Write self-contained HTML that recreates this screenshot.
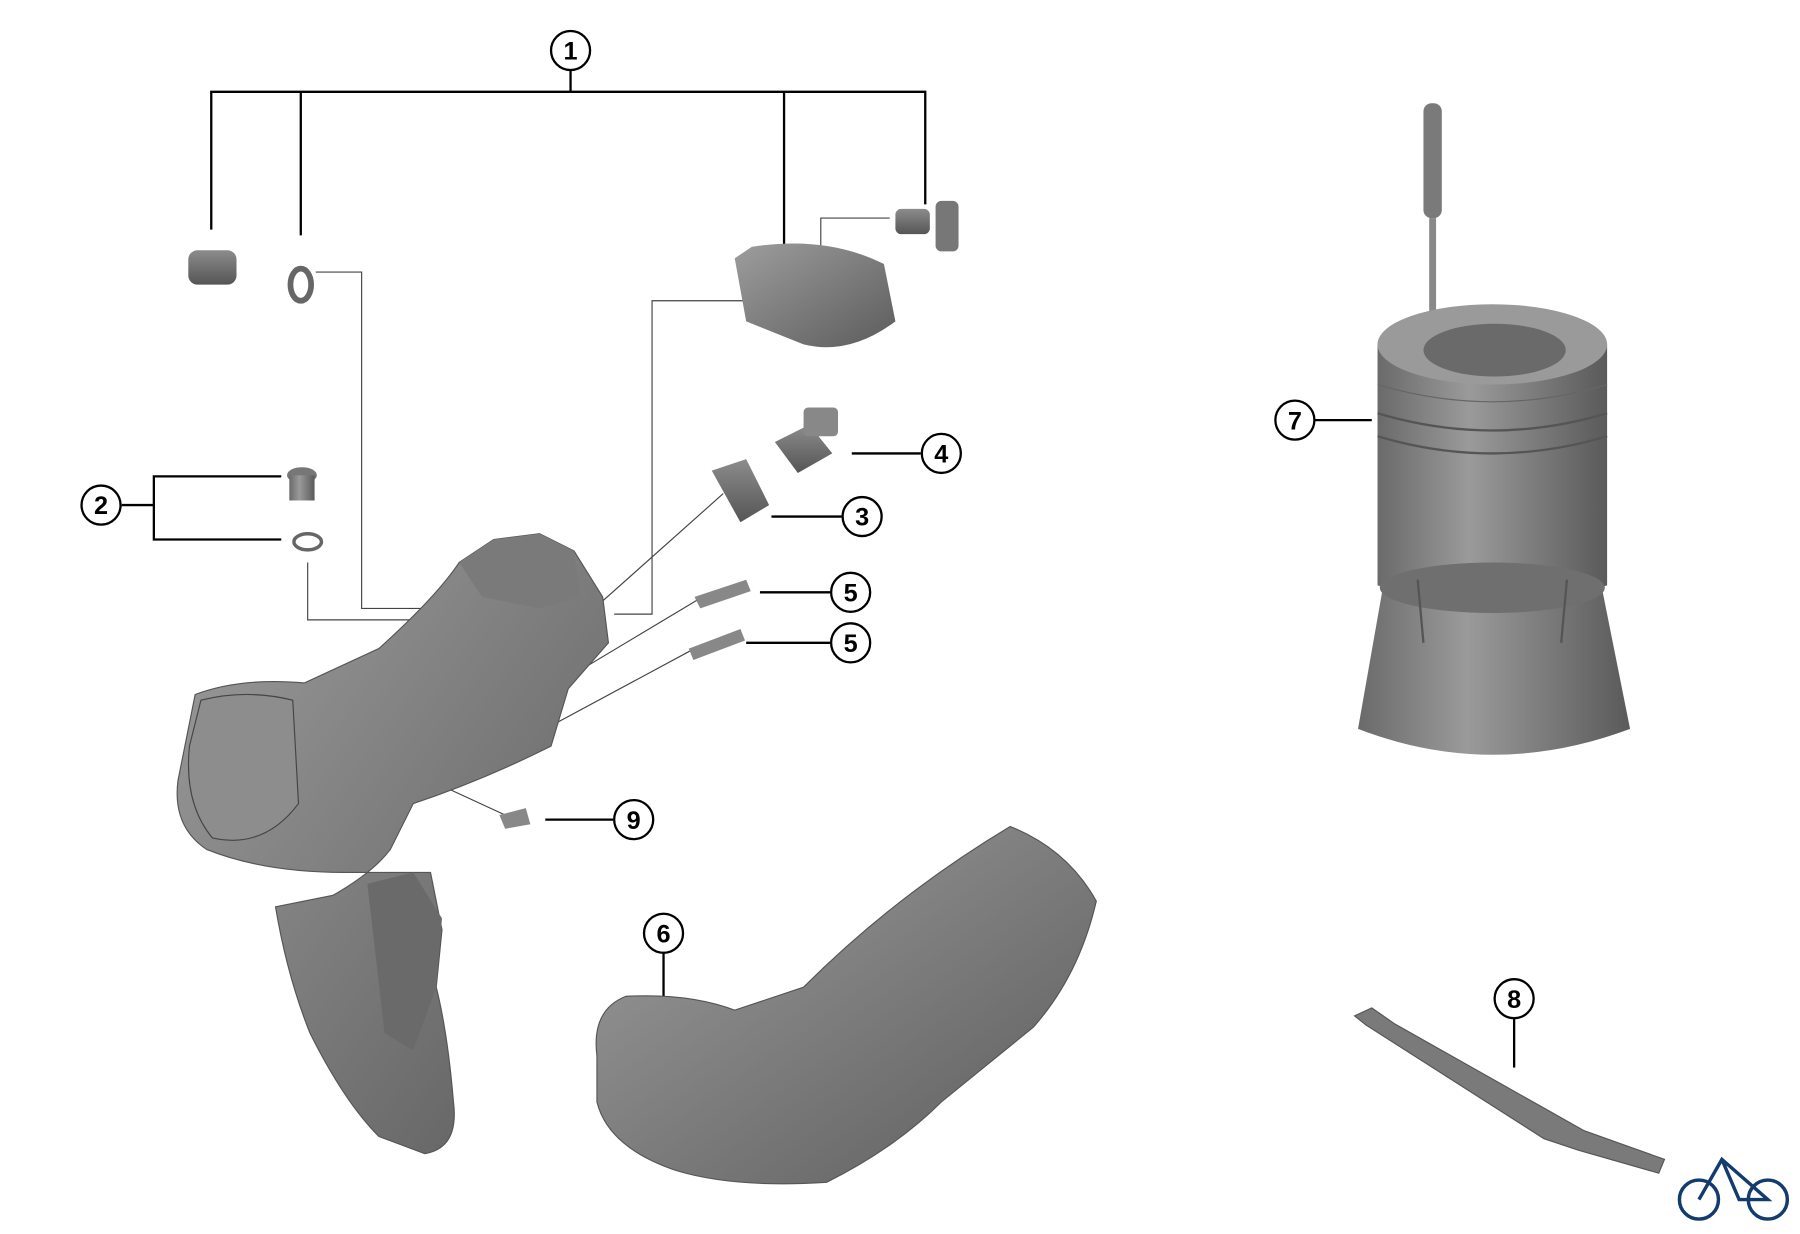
<!DOCTYPE html>
<html><head><meta charset="utf-8"><style>
html,body{margin:0;padding:0;background:#fff;}
svg{display:block;}
text{font-family:"Liberation Sans",sans-serif;font-size:22px;font-weight:bold;text-anchor:middle;dominant-baseline:central;fill:#000;}
</style></head><body>
<svg width="1800" height="1234" viewBox="0 0 1568 1075" xmlns="http://www.w3.org/2000/svg">
<defs>
<linearGradient id="g1" x1="0" y1="0" x2="1" y2="0"><stop offset="0" stop-color="#6a6a6a"/><stop offset="0.4" stop-color="#9a9a9a"/><stop offset="1" stop-color="#5a5a5a"/></linearGradient>
<linearGradient id="g2" x1="0" y1="0" x2="0" y2="1"><stop offset="0" stop-color="#8c8c8c"/><stop offset="1" stop-color="#555"/></linearGradient>
<linearGradient id="g3" x1="0" y1="0" x2="1" y2="1"><stop offset="0" stop-color="#9d9d9d"/><stop offset="1" stop-color="#5c5c5c"/></linearGradient>
</defs>
<g fill="none" stroke="#000" stroke-width="2">
<line x1="497" y1="61" x2="497" y2="80"/>
<polyline points="184,200 184,80 806,80 806,178"/>
<line x1="262" y1="80" x2="262" y2="205"/>
<line x1="683" y1="80" x2="683" y2="215"/>
<polyline points="106,440 134,440"/>
<polyline points="245,415 134,415 134,470 245,470"/>
<line x1="672" y1="450" x2="733" y2="450"/>
<line x1="742" y1="395" x2="802" y2="395"/>
<line x1="662" y1="516" x2="723" y2="516"/>
<line x1="650" y1="560" x2="723" y2="560"/>
<line x1="475" y1="714" x2="534" y2="714"/>
<line x1="578" y1="830" x2="578" y2="878"/>
<line x1="1145" y1="366" x2="1195" y2="366"/>
<line x1="1319" y1="887" x2="1319" y2="930"/>
</g>
<g fill="none" stroke="#444" stroke-width="1">
<polyline points="275,237 315,237 315,530 395,530"/>
<polyline points="268,490 268,540 395,540"/>
<polyline points="535,535 568,535 568,262 643,262 715,262 715,190 775,190"/>
<line x1="520" y1="528" x2="630" y2="430"/>
<line x1="470" y1="605" x2="612" y2="520"/>
<line x1="475" y1="635" x2="605" y2="565"/>
<line x1="245" y1="620" x2="440" y2="710"/>
</g>
<rect x="164" y="218" width="42" height="30" rx="8" fill="url(#g2)"/>
<ellipse cx="262" cy="248" rx="9" ry="14" fill="none" stroke="#666" stroke-width="5"/>
<path d="M640,225 L655,215 Q720,205 770,230 L780,280 Q740,310 700,300 L650,280 Z" fill="url(#g3)"/>
<rect x="780" y="182" width="30" height="22" rx="5" fill="url(#g2)"/>
<rect x="815" y="175" width="20" height="44" rx="5" fill="#777"/>
<ellipse cx="263" cy="414" rx="13" ry="7" fill="#777"/><rect x="252" y="414" width="22" height="22" fill="url(#g1)"/>
<ellipse cx="268" cy="472" rx="12" ry="7" fill="none" stroke="#666" stroke-width="3"/>
<path d="M620,410 L650,400 L670,440 L645,455 Z" fill="url(#g2)"/>
<path d="M675,385 L705,370 L725,395 L695,412 Z" fill="url(#g2)"/>
<rect x="700" y="355" width="30" height="25" rx="4" fill="#888"/>
<path d="M605,520 L650,505 L654,515 L610,530 Z" fill="#888"/>
<path d="M600,565 L645,548 L649,558 L604,575 Z" fill="#888"/>
<path d="M435,710 L458,704 L462,718 L440,722 Z" fill="#888"/>
<path d="M170,605 Q210,590 265,595 L330,565 Q380,520 400,490 L430,470 L470,465 L500,480 L525,520 L530,560 L495,600 L480,650 Q420,680 360,700 L340,740 Q325,760 290,780 L240,790 Q250,850 270,900 Q300,960 330,990 L370,1005 Q400,1000 395,960 Q390,900 380,860 L385,810 L375,760 Q330,760 300,760 Q230,760 180,740 Q150,720 155,680 Z" fill="url(#g3)" stroke="#555" stroke-width="1"/>
<path d="M400,490 L430,470 L470,465 L500,480 L505,520 L470,530 L420,520 Z" fill="#7a7a7a"/>
<path d="M320,770 L360,760 L385,800 L380,860 L360,915 L335,900 Z" fill="#6a6a6a"/>
<path d="M175,610 Q215,600 255,610 L260,700 Q230,740 185,730 Q160,700 165,650 Z" fill="#8d8d8d" stroke="#444"/>
<path d="M520,920 Q515,880 545,868 Q600,865 640,880 L700,860 Q780,780 880,720 Q930,740 955,785 Q940,850 900,895 L820,960 Q780,1000 720,1030 Q640,1035 590,1020 Q530,1000 520,960 Z" fill="url(#g3)" stroke="#555" stroke-width="1"/>
<rect x="1240" y="90" width="16" height="100" rx="7" fill="#7a7a7a"/>
<rect x="1245" y="190" width="6" height="130" fill="#888"/>
<path d="M1200,300 L1200,510 Q1300,540 1400,510 L1400,300 Z" fill="url(#g1)"/>
<path d="M1200,360 Q1300,390 1400,360" fill="none" stroke="#555" stroke-width="2"/>
<path d="M1200,380 Q1300,410 1400,380" fill="none" stroke="#555" stroke-width="2"/>
<path d="M1200,335 Q1300,365 1400,335" fill="none" stroke="#666" stroke-width="1"/>
<ellipse cx="1300" cy="300" rx="100" ry="35" fill="#9a9a9a"/>
<ellipse cx="1302" cy="305" rx="62" ry="23" fill="#6a6a6a"/>
<path d="M1183,635 L1205,510 L1395,510 L1420,635 Q1300,680 1183,635 Z" fill="url(#g1)"/>
<ellipse cx="1300" cy="512" rx="98" ry="22" fill="#6f6f6f"/>
<g stroke="#555" stroke-width="2"><line x1="1235" y1="505" x2="1240" y2="560"/><line x1="1365" y1="505" x2="1360" y2="560"/></g>
<path d="M1180,885 L1195,878 L1215,892 L1380,985 L1450,1010 L1445,1022 L1375,1002 L1345,992 L1190,893 Z" fill="#7a7a7a" stroke="#555"/>
<g fill="none" stroke="#123c6e" stroke-width="3"><circle cx="1480" cy="1045" r="17"/><circle cx="1540" cy="1045" r="17"/><polyline points="1480,1045 1500,1010 1540,1045 1515,1045 1500,1010"/></g>
<g fill="#fff" stroke="#000" stroke-width="2">
<circle cx="497" cy="44" r="17"/><circle cx="88" cy="440" r="17"/><circle cx="751" cy="450" r="17"/><circle cx="820" cy="395" r="17"/><circle cx="741" cy="516" r="17"/><circle cx="741" cy="560" r="17"/><circle cx="578" cy="813" r="17"/><circle cx="1128" cy="366" r="17"/><circle cx="1319" cy="870" r="17"/><circle cx="552" cy="714" r="17"/>
</g>
<text x="497" y="45">1</text><text x="88" y="441">2</text><text x="751" y="451">3</text><text x="820" y="396">4</text><text x="741" y="517">5</text><text x="741" y="561">5</text><text x="578" y="814">6</text><text x="1128" y="367">7</text><text x="1319" y="871">8</text><text x="552" y="715">9</text>
</svg>
</body></html>
